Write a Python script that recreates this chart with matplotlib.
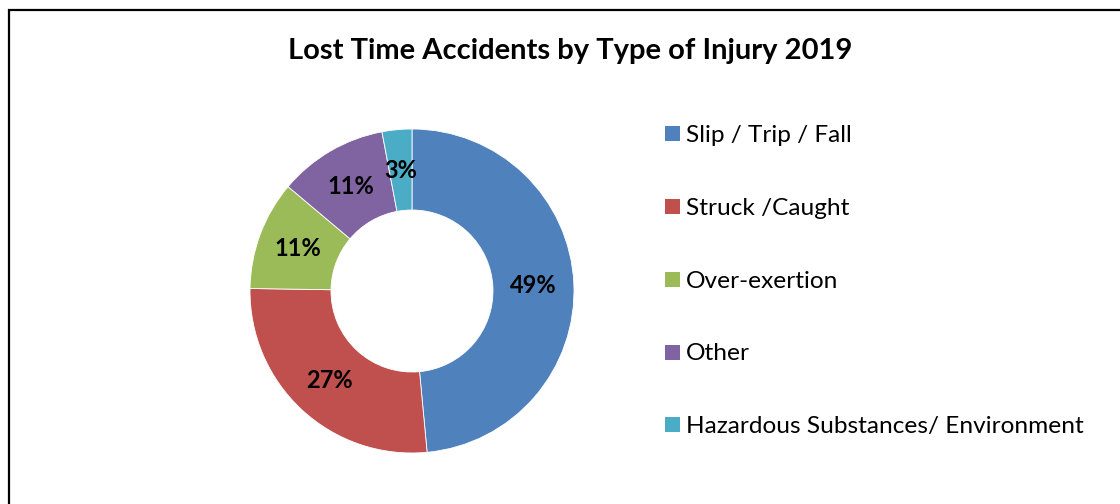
import matplotlib
matplotlib.use("Agg")
import matplotlib.pyplot as plt
from matplotlib.patches import Rectangle

# data
injury_types = ["Slip / Trip / Fall", "Struck /Caught", "Over-exertion",
                "Other", "Hazardous Substances/ Environment"]
percent = [49, 27, 11, 11, 3]
colors = ["#4F81BD", "#C0504D", "#9BBB59", "#8064A2", "#4BACC6"]
title = "Lost Time Accidents by Type of Injury 2019"

plt.rcParams["font.family"] = ["Lato", "DejaVu Sans"]

W, H = 1120, 504
fig = plt.figure(figsize=(W / 100, H / 100), dpi=100)
ax = fig.add_axes([0, 0, 1, 1])

# donut, centre and radius in pixel units (y up)
wedges, texts, autotexts = ax.pie(
    percent, colors=colors, startangle=90, counterclock=False,
    center=(412, H - 291), radius=162, frame=True,
    wedgeprops=dict(width=81, edgecolor="white", linewidth=0.6),
    autopct=lambda p: "%d%%" % round(p * sum(percent) / 100),
    pctdistance=0.75,
    textprops=dict(fontsize=17, fontweight="bold", color="black"))

ax.set_xlim(0, W)
ax.set_ylim(0, H)
ax.set_aspect("equal")
ax.axis("off")

# chart border (cut off at right and bottom like the screenshot)
ax.add_patch(Rectangle((9, -20), W + 20, H - 10 + 20, fill=False,
                       edgecolor="black", linewidth=1.6, clip_on=False))

ax.text(570, H - 51, title, ha="center", va="center",
        fontsize=21, fontweight="bold")

# legend
for i, (lab, col) in enumerate(zip(injury_types, colors)):
    yc = H - (133.7 + i * 72.8)
    ax.add_patch(Rectangle((665, yc - 7.5), 15, 15, facecolor=col,
                           edgecolor="none"))
    ax.text(686, yc - 8.3, lab, ha="left", va="baseline", fontsize=17.6)

fig.savefig("out.png", dpi=100)
